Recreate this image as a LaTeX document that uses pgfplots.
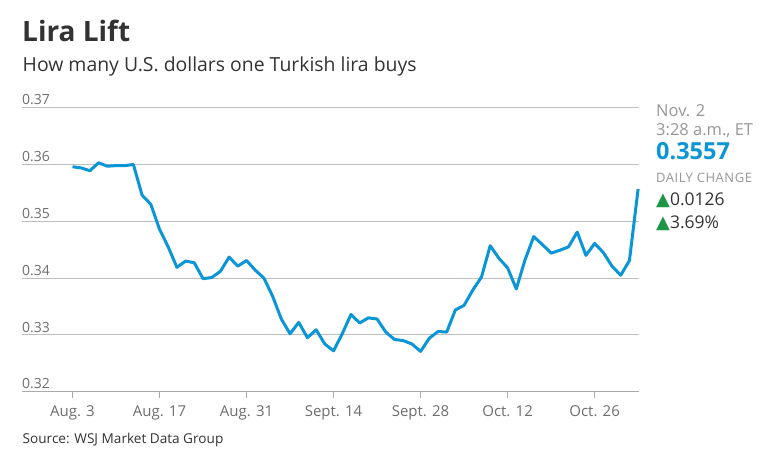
\documentclass[border=0pt]{standalone}
\usepackage{pgfplots}
\pgfplotsset{compat=1.18}
\usepackage{fontspec}
\setmainfont{Open Sans}
\newfontfamily\dejavu{DejaVu Sans}
\definecolor{wsjblue}{RGB}{10,150,214}
\definecolor{titlegray}{RGB}{51,51,51}
\definecolor{tickgray}{RGB}{110,110,110}
\definecolor{lightgray}{RGB}{150,150,150}
\definecolor{gridgray}{RGB}{190,190,190}
\definecolor{axisgray}{RGB}{170,170,170}
\definecolor{upgreen}{RGB}{30,150,70}
\newcommand{\fs}[1]{\fontsize{#1bp}{#1bp}\selectfont}
\begin{document}
\begin{tikzpicture}
\path[use as bounding box] (0,0) rectangle (776bp,-455bp);
\begin{axis}[
  at={(22bp,-391.7bp)}, anchor=south west,
  scale only axis, width=617bp, height=284bp,
  xmin=-5.8, xmax=65.1, ymin=0.32, ymax=0.37,
  axis x line*=bottom, axis y line*=left,
  y axis line style={draw=none},
  x axis line style={draw=axisgray, line width=1.3bp, -},
  ytick={0.32,0.33,0.34,0.35,0.36,0.37},
  ymajorgrids, grid style={draw=gridgray, line width=1bp},
  ytick style={draw=none},
  yticklabel style={anchor=south west, inner xsep=0pt, inner ysep=2.5bp, xshift=0bp,
     font=\fs{14}, text=tickgray,
     /pgf/number format/.cd, fixed, precision=2, fixed zerofill, assume math mode=true},
  xtick={0,10,20,30,40,50,60},
  xticklabels={Aug. 3, Aug. 17, Aug. 31, Sept. 14, Sept. 28, Oct. 12, Oct. 26},
  xtick align=outside, major tick length=6bp,
  xtick style={draw=axisgray, line width=1bp},
  xticklabel style={font=\fs{15}, text=tickgray, inner sep=0pt, anchor=base, yshift=-19bp},
  clip=false,
]
\addplot[wsjblue, line width=3bp, line join=round] coordinates {
(0,0.3596) (1,0.3594) (2,0.3589) (3,0.3603) (4,0.3597) (5,0.3598) (6,0.3598) (7,0.3600)
(8,0.3546) (9,0.3530) (10,0.3486) (11,0.3455) (12,0.3419) (13,0.3430) (14,0.3427)
(15,0.3399) (16,0.3401) (17,0.3412) (18,0.3437) (19,0.3421) (20,0.3431) (21,0.3414)
(22,0.3400) (23,0.3368) (24,0.3328) (25,0.3302) (26,0.3322) (27,0.3295) (28,0.3309)
(29,0.3284) (30,0.3272) (31,0.3302) (32,0.3336) (33,0.3321) (34,0.3330) (35,0.3328)
(36,0.3305) (37,0.3292) (38,0.3290) (39,0.3284) (40,0.3271) (41,0.3294) (42,0.3306)
(43,0.3305) (44,0.3344) (45,0.3352) (46,0.3379) (47,0.3402) (48,0.3457) (49,0.3435)
(50,0.3418) (51,0.3381) (52,0.3432) (53,0.3473) (54,0.3459) (55,0.3444) (56,0.3449)
(57,0.3455) (58,0.3481) (59,0.3440) (60,0.3461) (61,0.3445) (62,0.3421) (63,0.3405)
(64,0.3431) (65,0.3557)
};
\end{axis}
\node[anchor=base west, inner sep=0pt, text=titlegray, font=\fs{28}\bfseries] at (22bp,-41.7bp) {Lira Lift};
\node[anchor=base west, inner sep=0pt, text=titlegray, font=\fs{19.4}] at (22.5bp,-71.7bp) {How many U.S. dollars one Turkish lira buys};
\node[anchor=base west, inner sep=0pt, text=titlegray, font=\fs{13.6}] at (22.5bp,-443.3bp) {Source: WSJ Market Data Group};
\node[anchor=base west, inner sep=0pt, text=lightgray, font=\fs{16.5}] at (656bp,-116.7bp) {Nov. 2};
\node[anchor=base west, inner sep=0pt, text=lightgray, font=\fs{16.5}] at (656bp,-135bp) {3:28 a.m., ET};
\node[anchor=base west, inner sep=0pt, text=wsjblue, font=\fs{23.5}\bfseries] at (656bp,-159bp) {0.3557};
\node[anchor=base west, inner sep=0pt, text=lightgray, font=\fs{13}\addfontfeature{LetterSpace=4}] at (656bp,-182.3bp) {DAILY CHANGE};
\node[anchor=base west, inner sep=0pt, text=titlegray, font=\fs{17.5}] at (656bp,-205bp) {{\dejavu\fs{18}\color{upgreen}▲}0.0126};
\node[anchor=base west, inner sep=0pt, text=titlegray, font=\fs{17.5}] at (656bp,-228.3bp) {{\dejavu\fs{18}\color{upgreen}▲}3.69\%};
\end{tikzpicture}
\end{document}
